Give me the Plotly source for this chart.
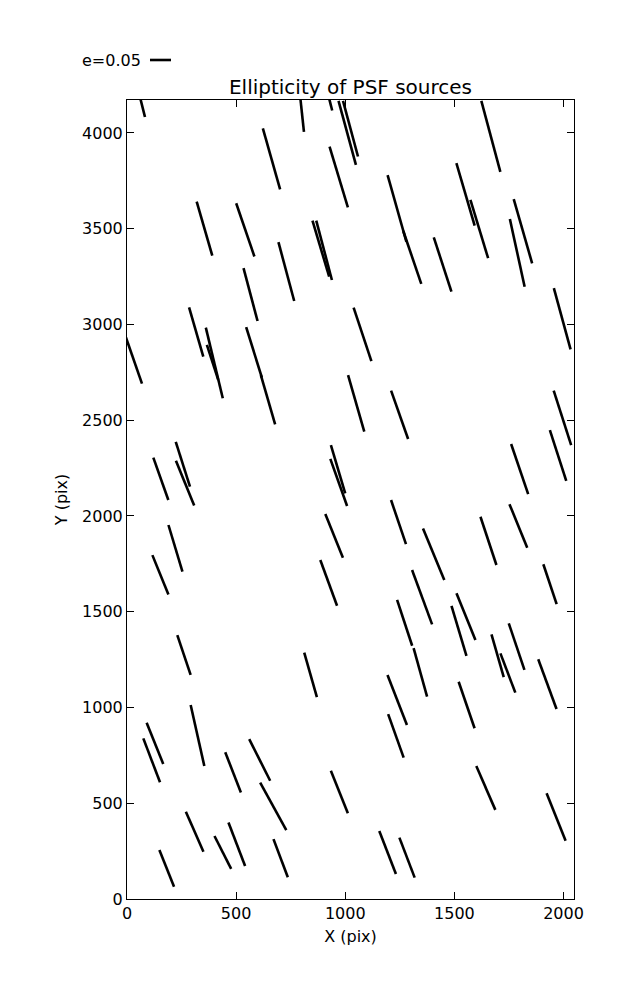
import math
import plotly.graph_objects as go

# ---- data: PSF star positions (pix), ellipticity e, position angle theta (deg) ----
x_pos = [64, 800, 929, 1009, 1024, 1667, 662, 970, 1237, 1307,
         1446, 1551, 1614, 1814, 1788, 1994, 355, 542, 888, 903,
         730, 566, 317, 400, 392, 582, 646, 23, 1079, 1050,
         1249, 1995, 1975, 1799, 155, 256, 266, 967, 970, 1244,
         1793, 222, 153, 949, 924, 1405, 1656, 1938, 1352, 1272,
         1553, 1521, 261, 841, 1344, 1698, 1745, 1785, 1926, 1238,
         1556, 323, 128, 113, 486, 608, 670, 973, 310, 439,
         503, 182, 704, 1232, 1644, 1966, 1194, 1283]
y_pos = [4167, 4120, 4167, 4000, 4022, 3982, 3865, 3770, 3606, 3350,
         3313, 3679, 3498, 3487, 3374, 3030, 3500, 3494, 3396, 3387,
         3276, 3156, 2961, 2799, 2802, 2854, 2607, 2841, 2948, 2588,
         2528, 2512, 2316, 2245, 2194, 2270, 2172, 2244, 2175, 1968,
         1948, 1831, 1693, 1896, 1651, 1800, 1870, 1644, 1576, 1442,
         1474, 1400, 1274, 1170, 1183, 1270, 1180, 1318, 1122, 1039,
         1013, 854, 813, 724, 661, 726, 484, 559, 351, 243,
         286, 160, 213, 852, 580, 428, 243, 216]
ellip = [0.079, 0.105, 0.047, 0.158, 0.137, 0.175, 0.151, 0.151, 0.165, 0.133,
         0.136, 0.155, 0.145, 0.159, 0.165, 0.151, 0.134, 0.134, 0.139, 0.146,
         0.145, 0.130, 0.122, 0.173, 0.088, 0.126, 0.122, 0.145, 0.134, 0.140,
         0.122, 0.136, 0.127, 0.126, 0.107, 0.112, 0.115, 0.120, 0.119, 0.111,
         0.112, 0.116, 0.101, 0.112, 0.116, 0.133, 0.121, 0.100, 0.138, 0.115,
         0.120, 0.124, 0.100, 0.110, 0.120, 0.106, 0.100, 0.117, 0.126, 0.128,
         0.117, 0.149, 0.106, 0.112, 0.103, 0.111, 0.129, 0.109, 0.104, 0.088,
         0.111, 0.094, 0.097, 0.110, 0.114, 0.122, 0.110, 0.102]
theta = [-76.0, -83.9, -75.8, -74.8, -74.9, -75.0, -74.2, -73.2, -74.3, -71.2,
         -72.0, -73.7, -73.1, -74.0, -77.7, -74.7, -73.9, -71.1, -73.4, -75.2,
         -75.0, -75.1, -73.9, -76.5, -72.1, -72.7, -73.8, -70.9, -71.6, -74.0,
         -70.6, -72.2, -72.1, -71.2, -70.5, -72.4, -67.8, -73.5, -70.4, -71.3,
         -67.8, -73.3, -67.8, -68.0, -69.9, -67.6, -71.7, -71.5, -69.8, -71.8,
         -67.9, -73.3, -71.5, -74.1, -74.5, -74.0, -69.2, -71.4, -69.8, -68.8,
         -71.1, -77.4, -68.1, -69.2, -68.8, -63.3, -61.2, -68.2, -66.3, -63.2,
         -69.1, -68.2, -69.4, -70.4, -66.6, -68.2, -68.9, -69.1]
key_e = 0.05
x_ticks = [0, 500, 1000, 1500, 2000]
y_ticks = [0, 500, 1000, 1500, 2000, 2500, 3000, 3500, 4000]
x_max, y_max = 2048, 4172

# ---- layout geometry (page body has an 8px margin) ----
PAGE = 8
W, H = 637 - PAGE, 1000 - PAGE
ML, MR, MT, MB = 127 - PAGE, 63, 100 - PAGE, 101
plot_w = W - ML - MR
plot_h = H - MT - MB
px_per_e = 420.0            # whisker length in pixels per unit ellipticity
sx = plot_w / x_max
sy = plot_h / y_max

xs, ys = [], []
for x0, y0, e, th in zip(x_pos, y_pos, ellip, theta):
    half = e * px_per_e / 2.0
    t = math.radians(th)
    dx = half * math.cos(t) / sx
    dy = half * math.sin(t) / sy
    xs += [x0 - dx, x0 + dx, None]
    ys += [y0 - dy, y0 + dy, None]

fig = go.Figure()
fig.add_trace(go.Scatter(x=xs, y=ys, mode="lines",
                         line=dict(color="black", width=2.6),
                         showlegend=False, hoverinfo="skip"))

font = dict(family="DejaVu Sans", size=16, color="black")
axis_common = dict(showgrid=False, zeroline=False, showline=True, linecolor="black",
                   linewidth=1, mirror="ticks", ticks="inside", ticklen=7,
                   tickwidth=1, tickcolor="black", tickfont=font)

fig.update_layout(
    width=W, height=H, autosize=False,
    margin=dict(l=ML, r=MR, t=MT, b=MB, pad=0),
    paper_bgcolor="white", plot_bgcolor="white",
    font=font,
    title=dict(text="Ellipticity of PSF sources", x=0.5, xref="paper",
               xanchor="center", y=1 - (87 - PAGE) / H, yref="container",
               yanchor="middle",
               font=dict(family="DejaVu Sans", size=20, color="black")),
    xaxis=dict(range=[0, x_max], tickvals=x_ticks, **axis_common,
               title=dict(text="X (pix)", font=font, standoff=8)),
    yaxis=dict(range=[0, y_max], tickvals=y_ticks, **axis_common,
               title=dict(text="Y (pix)", font=font, standoff=10)),
)

# key: e=0.05 whisker
key_len = key_e * px_per_e / plot_w
kx0 = (150 - 127) / plot_w
ky = (899 - 60) / plot_h
fig.add_shape(type="line", xref="paper", yref="paper",
              x0=kx0, x1=kx0 + key_len, y0=ky, y1=ky,
              line=dict(color="black", width=2.6))
fig.add_annotation(xref="paper", yref="paper", x=kx0 - 7 / plot_w, y=ky,
                   xanchor="right", yanchor="middle", showarrow=False,
                   text=f"e={key_e}", font=font)

fig.write_html("out.html")
